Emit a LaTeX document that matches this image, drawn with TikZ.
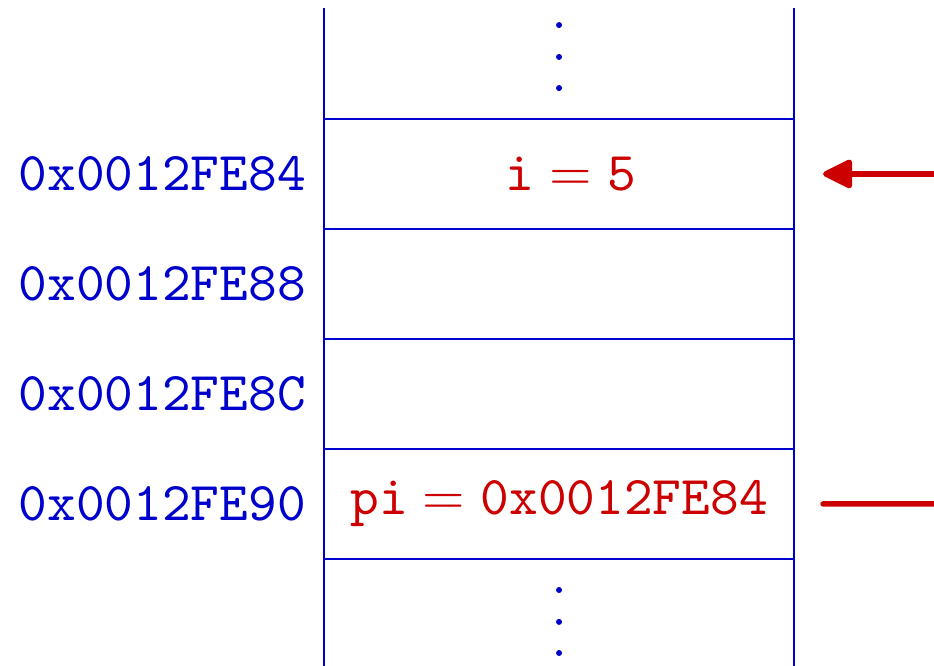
\documentclass[tikz,border=0pt]{standalone}
\usetikzlibrary{positioning,arrows.meta}
\definecolor{memblue}{RGB}{0,0,204}
\definecolor{memred}{RGB}{204,0,0}

\begin{document}
\begin{tikzpicture}[
		cell/.style={draw=memblue, line width=0.45pt, minimum width=3.021cm, minimum height=0.707cm, inner sep=0pt, outer sep=0pt, text=memred},
		addr/.style={text=memblue, inner sep=0pt, font=\ttfamily},
		ptr/.style={memred, line width=1pt, line cap=round, shorten >=0.186cm}]
		\useasboundingbox (0,0) rectangle (6.003,-4.280);
		\node[cell] (i) at (3.593,-1.118) {\hspace*{0.155cm}$\mathtt{i = 5}$};
		\node[cell, below=0pt of i] (free1) { };
		\node[cell, below=0pt of free1] (free2) { };
		\node[cell, below=0pt of free2] (pi) {$\mathtt{pi = 0x0012FE84}$};
		\node[addr, left=0.11cm of i] (a84) {0x0012FE84};
		\node[addr, left=0.11cm of free1] (a88) {0x0012FE88};
		\node[addr, left=0.11cm of free2] (a8c) {0x0012FE8C};
		\node[addr, left=0.11cm of pi] (a90) {0x0012FE90};
		\draw[memblue, line width=0.45pt] (i.north west) -- ++(0,0.714) (i.north east) -- ++(0,0.714);
		\draw[memblue, line width=0.45pt] (pi.south west) -- ++(0,-0.694) (pi.south east) -- ++(0,-0.694);
		\foreach \y in {0.161,0.366,0.566,3.792,3.997,4.197}
			\fill[memblue] (3.593,-\y) circle (0.55pt);
		\coordinate (p1) at (6.003,-1.118);
		\coordinate (p2) at (6.003,-3.239);
		\draw[ptr, -{Triangle[length=6pt,width=5.6pt,round]}] (p1) -- (i);
		\draw[ptr] (p2) -- (pi);
\end{tikzpicture}
\end{document}
